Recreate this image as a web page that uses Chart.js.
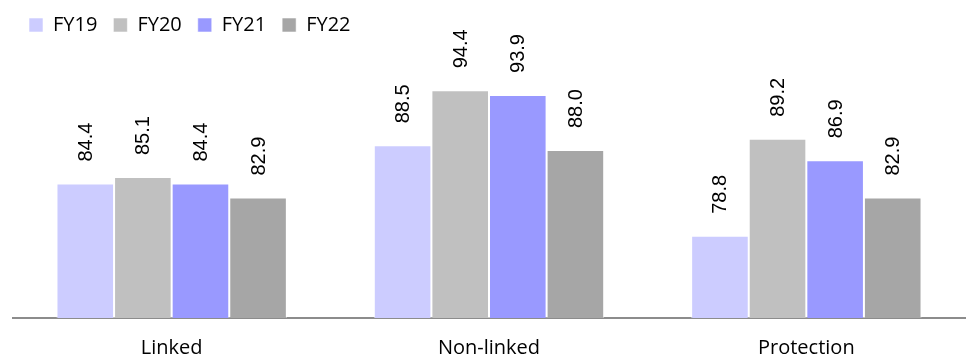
<!DOCTYPE html>
<html><head><meta charset="utf-8">
<script src="https://cdn.jsdelivr.net/npm/chart.js@4"></script>
<style>html,body{margin:0;padding:0;background:#fff}#wrap{width:973px;height:363px;position:relative}</style>
</head><body><div id="wrap"><canvas id="c" width="973" height="363"></canvas></div>
<script>
const categories = ["Linked", "Non-linked", "Protection"];
const seriesNames = ["FY19", "FY20", "FY21", "FY22"];
const fy19 = [84.4, 88.5, 78.8];
const fy20 = [85.1, 94.4, 89.2];
const fy21 = [84.4, 93.9, 86.9];
const fy22 = [82.9, 88.0, 82.9];
const colors = ["#CCCCFF", "#C0C0C0", "#9999FF", "#A6A6A6"];

const labelPlugin = {
  id: 'rotLabels',
  afterDatasetsDraw(chart) {
    const ctx = chart.ctx;
    ctx.save();
    ctx.font = '20px "Liberation Sans", Arial, sans-serif';
    ctx.fillStyle = '#000';
    ctx.textAlign = 'left';
    ctx.textBaseline = 'middle';
    chart.data.datasets.forEach((ds, i) => {
      chart.getDatasetMeta(i).data.forEach((bar, j) => {
        ctx.save();
        ctx.translate(bar.x + 1, bar.y - 22);
        ctx.rotate(-Math.PI / 2);
        ctx.fillText(ds.data[j].toFixed(1), 0, 0);
        ctx.restore();
      });
    });
    ctx.restore();
  }
};

const sets = [fy19, fy20, fy21, fy22];
const chart = new Chart(document.getElementById('c'), {
  type: 'bar',
  data: {
    labels: categories,
    datasets: sets.map((d, i) => ({
      label: seriesNames[i], data: d, backgroundColor: colors[i],
      borderColor: 'rgba(255,255,255,0.55)', borderWidth: 1, borderSkipped: 'bottom',
      categoryPercentage: 0.726, barPercentage: 1.0
    }))
  },
  options: {
    responsive: false, animation: false,
    layout: { padding: { left: 13, right: 8, top: -1, bottom: 0 } },
    plugins: {
      legend: {
        position: 'top', align: 'start',
        labels: { boxWidth: 14, boxHeight: 14, padding: 16, color: '#000',
          font: { family: '"Open Sans", sans-serif', size: 20 } }
      },
      tooltip: { enabled: false }
    },
    scales: {
      x: {
        grid: { display: false, drawTicks: false },
        border: { display: true, color: '#8C8C8C', width: 2 },
        ticks: { color: '#000', padding: 18, font: { family: '"Open Sans", sans-serif', size: 20 } },
        afterFit(scale) { scale.height = 45; }
      },
      y: { display: false, min: 70, max: 100 }
    }
  },
  plugins: [labelPlugin]
});
const lg = chart.legend;
const origFit = lg.fit.bind(lg);
lg.fit = function () { origFit(); this.height = 39; };
chart.update();
</script></body></html>
